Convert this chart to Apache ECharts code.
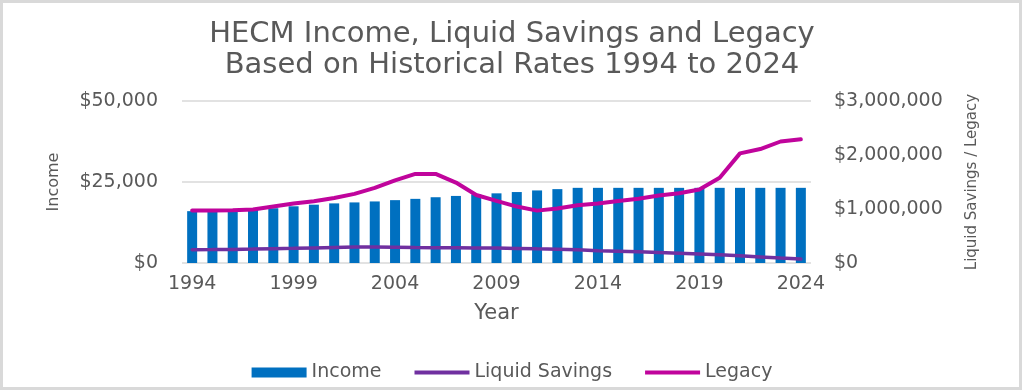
<!DOCTYPE html>
<html>
<head>
<meta charset="utf-8">
<script src="https://cdn.jsdelivr.net/npm/echarts@6/dist/echarts.min.js"></script>
<style>
  html, body { margin: 0; padding: 0; background: #ffffff; }
  #chart { width: 1024px; height: 390px; }
</style>
</head>
<body>
<div id="chart"></div>
<script>
const years = ['1994','1995','1996','1997','1998','1999','2000','2001','2002','2003',
               '2004','2005','2006','2007','2008','2009','2010','2011','2012','2013',
               '2014','2015','2016','2017','2018','2019','2020','2021','2022','2023','2024'];
const income = [16000,16000,16100,16400,16900,17500,18000,18400,18700,19000,
                19400,19800,20300,20700,21200,21500,21900,22400,22800,23200,
                23200,23200,23200,23200,23200,23200,23200,23200,23200,23200,23200];
const liquidSavings = [245000,248000,252000,258000,265000,272000,280000,288000,295000,295000,
                       290000,285000,283000,282000,280000,277000,270000,262000,255000,245000,
                       228000,218000,207000,195000,182000,168000,152000,133000,113000,92000,72000];
const legacy = [970000,970000,975000,990000,1045000,1100000,1145000,1205000,1280000,1390000,
                1530000,1650000,1650000,1490000,1260000,1150000,1045000,970000,1010000,1070000,
                1100000,1150000,1190000,1250000,1290000,1360000,1580000,2030000,2110000,2250000,2290000];
const incomeTicks = { min: 0, max: 50000, interval: 25000 };
const legacyTicks = { min: 0, max: 3000000, interval: 1000000 };

const FONT = 'DejaVu Sans';
const TXT = '#595959';
const money = v => '$' + Number(v).toLocaleString('en-US');
// line-shaped legend icon, same aspect as the 55x10 legend box
const LINE_ICON = 'path://M0,0L55,0L55,0.01ZM0,3L55,3L55,7L0,7ZM0,10L55,10L55,9.99Z';

const chart = echarts.init(document.getElementById('chart'), null, { renderer: 'canvas' });
chart.setOption({
  backgroundColor: '#ffffff',
  animation: false,
  title: {
    text: 'HECM Income, Liquid Savings and Legacy\nBased on Historical Rates 1994 to 2024',
    left: 'center',
    top: 14,
    textStyle: { fontFamily: FONT, fontSize: 29, fontWeight: 'normal', color: TXT, lineHeight: 31, align: 'center' }
  },
  graphic: [{
    type: 'rect', silent: true, z: -1,
    shape: { x: 1.5, y: 1.5, width: 1019, height: 387 },
    style: { fill: 'none', stroke: '#d9d9d9', lineWidth: 3 }
  }],
  legend: {
    left: 'center',
    top: 358,
    itemWidth: 55,
    itemHeight: 10,
    itemGap: 33,
    textStyle: { fontFamily: FONT, fontSize: 19, color: TXT },
    data: [
      { name: 'Income', icon: 'rect' },
      { name: 'Liquid Savings', icon: LINE_ICON },
      { name: 'Legacy', icon: LINE_ICON }
    ]
  },
  grid: { left: 182, right: 213, top: 101, bottom: 127, containLabel: false },
  xAxis: {
    type: 'category',
    data: years,
    name: 'Year',
    nameLocation: 'middle',
    nameGap: 40,
    nameTextStyle: { fontFamily: FONT, fontSize: 21, color: TXT },
    axisLine: { show: false },
    axisTick: { show: false },
    axisLabel: { interval: 4, margin: 12, fontFamily: FONT, fontSize: 19, color: TXT }
  },
  yAxis: [{
    type: 'value',
    min: incomeTicks.min, max: incomeTicks.max, interval: incomeTicks.interval,
    name: 'Income',
    nameLocation: 'middle',
    nameGap: 120,
    nameTextStyle: { fontFamily: FONT, fontSize: 16, color: TXT },
    axisLine: { show: false },
    axisTick: { show: false },
    axisLabel: { margin: 24, fontFamily: FONT, fontSize: 19, color: TXT, formatter: money },
    splitLine: { show: true, lineStyle: { color: '#d9d9d9', width: 1.5 } }
  }, {
    type: 'value',
    position: 'right',
    min: legacyTicks.min, max: legacyTicks.max, interval: legacyTicks.interval,
    name: 'Liquid Savings / Legacy',
    nameLocation: 'middle',
    nameGap: 154,
    nameTextStyle: { fontFamily: FONT, fontSize: 15, color: TXT },
    axisLine: { show: false },
    axisTick: { show: false },
    axisLabel: { margin: 23, fontFamily: FONT, fontSize: 19, color: TXT, formatter: money },
    splitLine: { show: false }
  }],
  series: [{
    name: 'Income',
    type: 'bar',
    yAxisIndex: 0,
    data: income,
    barWidth: 10,
    itemStyle: { color: '#0070C0' }
  }, {
    name: 'Liquid Savings',
    type: 'line',
    yAxisIndex: 1,
    data: liquidSavings,
    symbol: 'none',
    showSymbol: false,
    lineStyle: { color: '#7030A0', width: 3.5, cap: 'round' },
    itemStyle: { color: '#7030A0' }
  }, {
    name: 'Legacy',
    type: 'line',
    yAxisIndex: 1,
    data: legacy,
    symbol: 'none',
    showSymbol: false,
    lineStyle: { color: '#C0049C', width: 4, cap: 'round', join: 'round' },
    itemStyle: { color: '#C0049C' }
  }]
});
</script>
</body>
</html>
